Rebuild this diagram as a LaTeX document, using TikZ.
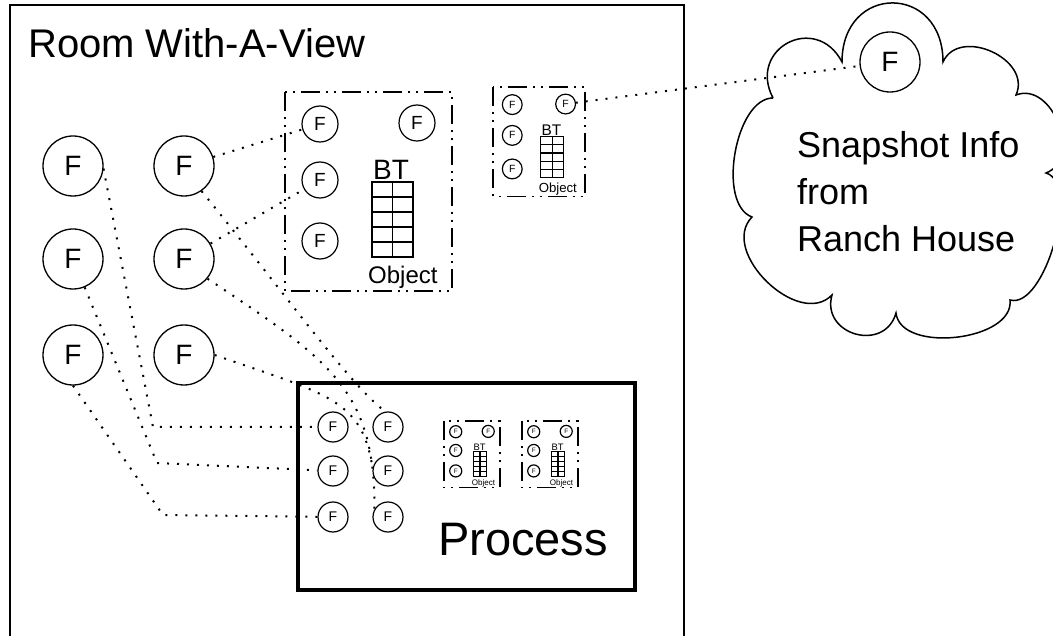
\documentclass[tikz,border=0pt]{standalone}
\usepackage{fontspec}
\setmainfont{Liberation Sans}
\usepackage{tikz}
\usetikzlibrary{topaths}

\tikzset{
  fbig/.style={circle,draw,line width=1.3pt,minimum size=60pt,inner sep=0pt,font=\fontsize{28}{28}\selectfont},
  fobj/.style={circle,draw,line width=1.2pt,minimum size=36pt,inner sep=0pt,font=\fontsize{19}{19}\selectfont},
  fproc/.style={circle,draw,line width=1.2pt,minimum size=30pt,inner sep=0pt,font=\fontsize{14}{14}\selectfont},
  link/.style={line width=2pt,dash pattern=on 2pt off 8pt},
  objbox/.style={line width=1.3pt,dash pattern=on 19pt off 6pt on 2pt off 6pt on 2pt off 6pt},
}

\begin{document}
\begin{tikzpicture}[x=1pt,y=-1pt]
    \useasboundingbox (0,0) rectangle (1053,636);
    % Draw the room
    \draw[line width=1.5pt] (10,636) -- (10,5) -- (684,5) -- (684,636);
    \node[anchor=base west,inner sep=0pt,font=\fontsize{40}{40}\selectfont] (room) at (28,58) {Room With-A-View};
    % Draw the F circles in the room
    \foreach \c/\x in {1/73, 2/184}{
      \foreach \r/\y in {1/166, 2/259, 3/355}{
        \node[fbig] (r\c\r) at (\x,\y) {F};
      }
    }
    % Draw the process and its F circles
    \draw[line width=4.8pt] (298,383) rectangle (635,590);
    \node[anchor=base west,inner sep=0pt,font=\fontsize{47}{47}\selectfont] (proc) at (438,555) {Process};
    \foreach \c/\x in {1/333, 2/388}{
      \foreach \r/\y in {1/427, 2/471, 3/517}{
        \node[fproc] (p\c\r) at (\x,\y) {F};
      }
    }
    % Draw the BT objects
    \foreach \n/\x/\y/\s in {big/285/92/1, sml/493/87/0.55, pa/444/421/0.335, pb/522/421/0.335}{
      \begin{scope}[shift={(\x,\y)},scale=\s,transform shape]
        \draw[objbox] (0,0) rectangle (167,199);
        \node[fobj] (\n-f1) at (35,32) {F};
        \node[fobj] (\n-f2) at (132,31) {F};
        \node[fobj] (\n-f3) at (35,88) {F};
        \node[fobj] (\n-f4) at (35,149) {F};
        \node[anchor=base west,inner sep=0pt,font=\fontsize{28}{28}\selectfont] (\n-bt) at (88,88) {BT};
        \draw[line width=1.2pt] (87,90) rectangle (128,165);
        \draw[line width=1.2pt] (107.5,90) -- (107.5,165);
        \foreach \k in {1,...,4}{
          \draw[line width=1.2pt] (87,{90+15*\k}) -- (128,{90+15*\k});
        }
        \node[anchor=base west,inner sep=0pt,font=\fontsize{24}{24}\selectfont] (\n-obj) at (83,192) {Object};
      \end{scope}
    }
    % Draw the cloud
    \draw[line width=1.5pt] (773,98) to[bend left=90,looseness=1.84] (842,62)
      to[bend left=90,looseness=2] (943,62)
      to[bend left=90,looseness=1.26] (1016,95)
      to[bend left=90,looseness=1.2] (1046,173)
      to[bend left=90,looseness=0.7] (1010,300)
      to[bend left=90,looseness=0.92] (896,313)
      to[bend left=90,looseness=1.6] (832,295)
      to[bend left=90,looseness=1.1] (752,217)
      to[bend left=80,looseness=0.8] (773,98);
    \node[fbig] (cf) at (890,62) {F};
    \node[anchor=north west,inner sep=0pt,align=left,font=\fontsize{36}{47}\selectfont] (snap) at (797,131) {Snapshot Info\\from\\Ranch House};
    % Draw the dotted links
    \coordinate (k1) at (153,427);
    \coordinate (k2) at (157,463);
    \coordinate (k3) at (163,515);
    \draw[link] (r21) -- (big-f1);
    \draw[link] (r22) -- (big-f3);
    \draw[link] (sml-f2) -- (cf);
    \draw[link] (r11.-5) -- (k1) -- (p11);
    \draw[link] (r12) -- (k2) -- (p12);
    \draw[link] (r13.south) -- (k3) -- (p13);
    \draw[link] (r21.-55) .. controls (290,300) and (350,385) .. (p21.100);
    \draw[link] (r22.-40) .. controls (330,360) and (375,390) .. (p23.150);
    \draw[link] (r23.east) .. controls (330,395) and (362,400) .. (p22.170);
\end{tikzpicture}
\end{document}
